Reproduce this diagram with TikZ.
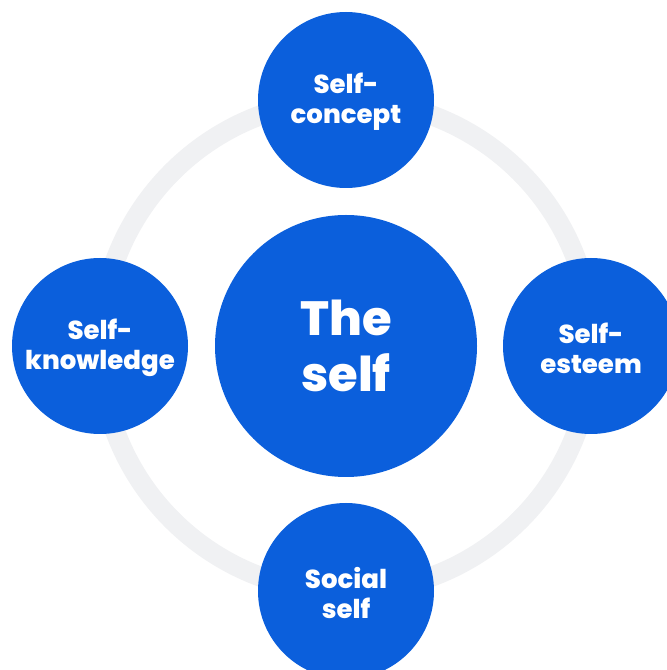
\documentclass[tikz,border=0pt]{standalone}
\usepackage{fontspec}
\setmainfont{Poppins}[BoldFont={Poppins ExtraBold}]
\definecolor{blu}{HTML}{0B5FDC}
\definecolor{ringc}{HTML}{F0F1F3}
\begin{document}
\begin{tikzpicture}[x=1pt,y=1pt,
  small/.style={circle,fill=blu,minimum size=176pt,inner sep=0pt},
  smalltext/.style={text=white,align=center,inner sep=0pt,yshift=-2pt,font=\fontsize{26}{30}\selectfont\bfseries},
  big/.style={circle,fill=blu,minimum size=262pt,inner sep=0pt,text=white,align=center,font=\fontsize{48}{56}\selectfont\bfseries}]
\useasboundingbox (0,0) rectangle (667,670);
\begin{scope}
\clip (0,0) rectangle (667,670);
\coordinate (c) at (346,324);
\draw[ringc,line width=20pt] (c) circle (246);
\node[big] (self) at (c) {The\\self};
\node[small] (top) at (346,570) {};
\node[small] (left) at (100,324) {};
\node[small] (right) at (591,324) {};
\node[small] (bot) at (346,79) {};
\node[smalltext] (toptext) at (top) {Self-\\concept};
\node[smalltext] (lefttext) at (left) {Self-\\knowledge};
\node[smalltext] (righttext) at (right) {Self-\\esteem};
\node[smalltext] (bottext) at (bot) {Social\\self};
\end{scope}
\end{tikzpicture}
\end{document}
